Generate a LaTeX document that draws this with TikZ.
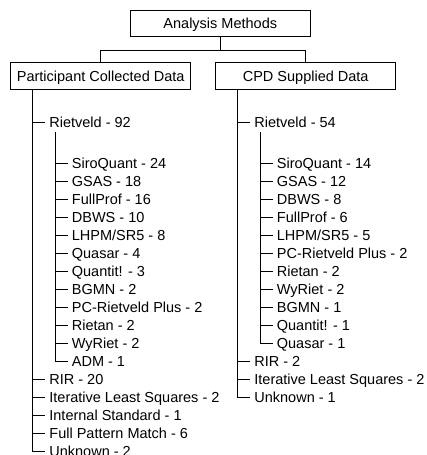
\documentclass[tikz,border=0pt]{standalone}
\usepackage{fontspec}
\setmainfont{Liberation Sans}
\begin{document}
\begin{tikzpicture}[x=1pt,y=-1pt,line width=0.8pt,
  every node/.style={font=\fontsize{14.5}{17}\selectfont},
  hbox/.style={draw,minimum width=180pt,minimum height=27pt,inner sep=0pt,text height=10.4pt,text depth=0pt},
  item/.style={anchor=west,inner xsep=4pt,inner ysep=0pt,text height=13.4pt,text depth=3pt}]
\useasboundingbox (0,0) rectangle (427,455);
% header boxes
\node[hbox,minimum width=179.3pt,minimum height=26pt] (am) at (220.3,23.7) {Analysis Methods};
\node[hbox] (pcd) at (100.7,76.3) {Participant Collected Data};
\node[hbox] (cpd) at (305.7,76.3) {CPD Supplied Data};
\draw (am.south) -- +(0,13.3) coordinate (bus);
\draw (pcd.north) |- (bus) -| (cpd.north);
% trunk coordinates
\coordinate (lt) at (32.3,90);
\coordinate (lsub) at (55,131.7);
\coordinate (rt) at (237.5,90);
\coordinate (rsub) at (260,131.7);
% left column
\node[item] (lriet) at (45,122.7) {Rietveld - 92};
\draw (lt |- lriet.west) -- (lriet.west);
\foreach \t [count=\i from 0] in {SiroQuant - 24,GSAS - 18,FullProf - 16,DBWS - 10,LHPM/SR5 - 8,Quasar - 4,Quantit! - 3,BGMN - 2,PC-Rietveld Plus - 2,Rietan - 2,WyRiet - 2,ADM - 1}{
  \node[item] (ls\i) at (67.5,163.3+18.03*\i) {\t};
  \draw (lsub |- ls\i.west) -- (ls\i.west);
}
\draw (lsub) |- (ls11.west);
\foreach \t [count=\i from 12] in {RIR - 20,Iterative Least Squares - 2,Internal Standard - 1,Full Pattern Match - 6,Unknown - 2}{
  \node[item] (lm\i) at (45,163.3+18.03*\i) {\t};
  \draw (lt |- lm\i.west) -- (lm\i.west);
}
\draw (lt) |- (lm16.west);
% right column
\node[item] (rriet) at (250,122.7) {Rietveld - 54};
\draw (rt |- rriet.west) -- (rriet.west);
\foreach \t [count=\i from 0] in {SiroQuant - 14,GSAS - 12,DBWS - 8,FullProf - 6,LHPM/SR5 - 5,PC-Rietveld Plus - 2,Rietan - 2,WyRiet - 2,BGMN - 1,Quantit! - 1,Quasar - 1}{
  \node[item] (rs\i) at (272.5,163.3+18.03*\i) {\t};
  \draw (rsub |- rs\i.west) -- (rs\i.west);
}
\draw (rsub) |- (rs10.west);
\foreach \t [count=\i from 11] in {RIR - 2,Iterative Least Squares - 2,Unknown - 1}{
  \node[item] (rm\i) at (250,163.3+18.03*\i) {\t};
  \draw (rt |- rm\i.west) -- (rm\i.west);
}
\draw (rt) |- (rm13.west);
\end{tikzpicture}
\end{document}
